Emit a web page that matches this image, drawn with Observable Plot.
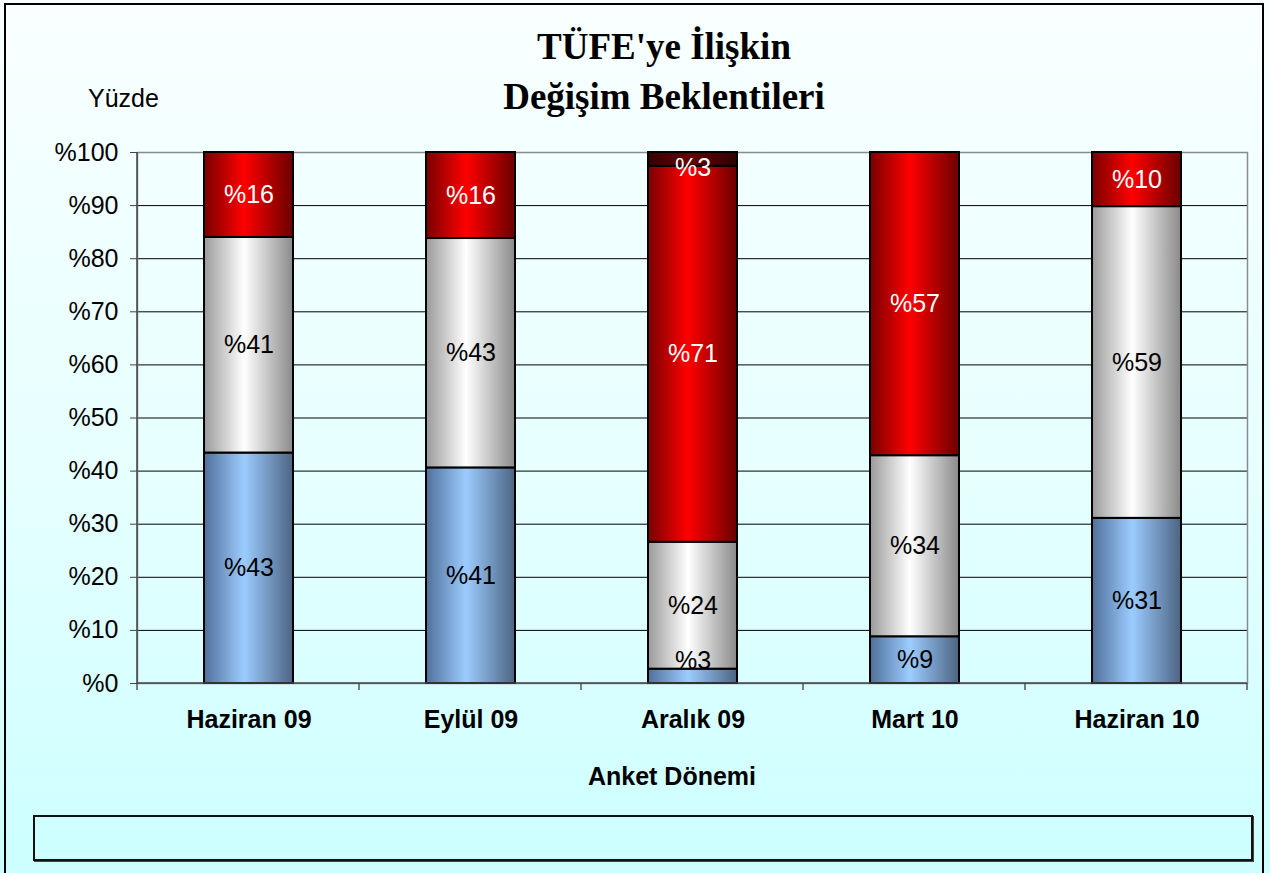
<!DOCTYPE html>
<html>
<head>
<meta charset="utf-8">
<script src="https://cdn.jsdelivr.net/npm/d3@7"></script>
<script src="https://cdn.jsdelivr.net/npm/@observablehq/plot@0.6"></script>
<style>
  body { margin: 0; }
  #wrap { position: relative; width: 1270px; height: 873px; overflow: hidden;
          background: linear-gradient(to bottom, #f9ffff 0%, #e6ffff 55%, #ccffff 100%);
          font-family: "Liberation Sans", Arial, sans-serif; }
  #frame { position: absolute; left: 4px; top: 3px; width: 1260px; height: 900px;
           border: 2px solid #000; box-sizing: border-box; }
  #title { position: absolute; left: 364px; width: 600px; top: 22px; text-align: center;
           font-family: "Liberation Serif", "Times New Roman", serif; font-weight: bold;
           font-size: 37px; line-height: 50px; color: #000; }
  #yuzde { position: absolute; left: 88px; top: 83px; font-size: 25px; line-height: 30px; }
  #xlab { position: absolute; left: 472px; width: 400px; top: 761px; text-align: center;
          font-size: 25px; font-weight: bold; line-height: 30px; }
  #legendbox { position: absolute; left: 33px; top: 815px; width: 1220px; height: 46px;
               border: 2px solid #111; box-sizing: border-box; box-shadow: 1px 1px 0 #444; }
  #chart { position: absolute; left: 0; top: 0; }
</style>
</head>
<body>
<div id="wrap">
  <div id="chart"></div>
  <div id="frame"></div>
  <div id="title">TÜFE'ye İlişkin<br>Değişim Beklentileri</div>
  <div id="yuzde">Yüzde</div>
  <div id="xlab">Anket Dönemi</div>
  <div id="legendbox"></div>
</div>
<script>
// ---- data ----
const categories = ["Haziran 09", "Eylül 09", "Aralık 09", "Mart 10", "Haziran 10"];
const seriesNames = ["Azalır", "Değişmez", "Artar", "Diğer"];
const azalir   = [43.4, 40.6, 2.7, 8.8, 31.1];
const degismez = [40.6, 43.2, 23.9, 34.1, 58.7];
const artar    = [16.0, 16.2, 70.8, 57.1, 10.2];
const diger    = [0, 0, 2.6, 0, 0];
const yTicks = [0, 10, 20, 30, 40, 50, 60, 70, 80, 90, 100];

const seriesValues = [azalir, degismez, artar, diger];
const gradIds = ["gBlue", "gGray", "gRed", "gDark"];
const labelColors = ["black", "black", "white", "white"];

const rows = [];
categories.forEach((c, i) => {
  let base = 0;
  seriesValues.forEach((arr, s) => {
    const v = arr[i];
    if (v > 0) {
      const mid = base + v / 2;
      rows.push({cat: c, series: seriesNames[s], value: v,
                 label: "%" + Math.round(v),
                 ly: Math.max(4.2, Math.min(97, mid)),
                 color: labelColors[s]});
    }
    base += v;
  });
});

const defs = () => {
  const svg = d3.create("svg:defs");
  const specs = {
    gBlue: [["0%", "#50709a"], ["45%", "#9cccff"], ["100%", "#4c6482"]],
    gGray: [["0%", "#9a9a9a"], ["45%", "#ffffff"], ["100%", "#8a8a8a"]],
    gRed:  [["0%", "#7a0000"], ["45%", "#ff0000"], ["100%", "#6a0000"]],
    gDark: [["0%", "#330000"], ["45%", "#660000"], ["100%", "#2e0000"]]
  };
  for (const [id, stops] of Object.entries(specs)) {
    const g = svg.append("linearGradient").attr("id", id)
      .attr("x1", 0).attr("x2", 1).attr("y1", 0).attr("y2", 0);
    for (const [o, c] of stops) g.append("stop").attr("offset", o).attr("stop-color", c);
  }
  return svg.node();
};

const extras = (index, scales, values, dimensions) => {
  const {width, height, marginLeft, marginRight, marginTop, marginBottom} = dimensions;
  const g = d3.create("svg:g");
  const n = categories.length;
  const step = (width - marginLeft - marginRight) / n;
  const y0 = height - marginBottom;
  for (let i = 0; i <= n; i++) {
    const x = marginLeft + i * step;
    g.append("line").attr("x1", x).attr("x2", x).attr("y1", y0).attr("y2", y0 + 7)
      .attr("stroke", "#555").attr("stroke-width", 1.5);
  }
  g.append("line").attr("x1", marginLeft).attr("x2", marginLeft)
    .attr("y1", marginTop).attr("y2", y0).attr("stroke", "#444").attr("stroke-width", 1.5);
  g.append("line").attr("x1", marginLeft).attr("x2", width - marginRight)
    .attr("y1", y0).attr("y2", y0).attr("stroke", "#444").attr("stroke-width", 1.5);
  return g.node();
};

const chart = Plot.plot({
  width: 1270,
  height: 873,
  marginLeft: 137,
  marginRight: 23,
  marginTop: 152,
  marginBottom: 190,
  style: {background: "transparent", fontFamily: "'Liberation Sans', Arial, sans-serif", color: "black"},
  x: {domain: categories, paddingInner: 0.6, paddingOuter: 0.3, label: null},
  y: {domain: [0, 100], label: null},
  color: {domain: seriesNames, range: gradIds.map(id => `url(#${id})`)},
  marks: [
    defs,
    Plot.gridY(yTicks, {stroke: "black", strokeOpacity: 1, strokeWidth: 1}),
    Plot.frame({stroke: "#8a8a8a", strokeWidth: 1.5}),
    Plot.barY(rows, {x: "cat", y: "value", fill: "series", stroke: "black", strokeWidth: 2}),
    Plot.text(rows, {x: "cat", y: "ly", text: "label", fill: "color", fontSize: 25}),
    extras,
    Plot.axisY(yTicks, {tickFormat: d => "%" + d, tickSize: 7, tickPadding: 12, fontSize: 25, stroke: "#444"}),
    Plot.axisX({tickSize: 0, tickPadding: 27, fontSize: 25, fontWeight: "bold", label: null})
  ]
});
document.getElementById("chart").appendChild(chart);
</script>
</body>
</html>
